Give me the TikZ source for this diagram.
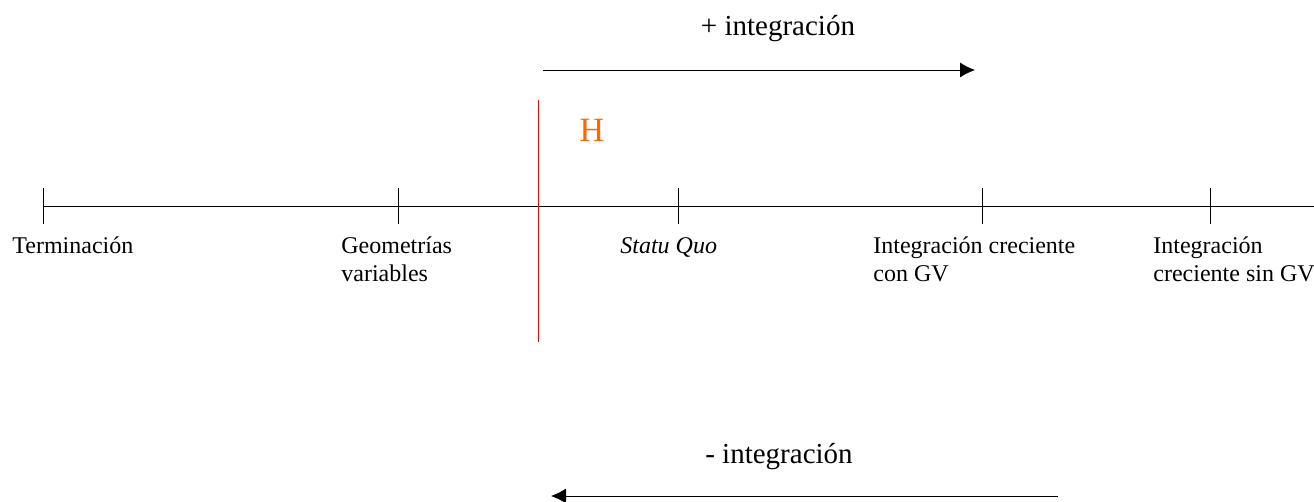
\documentclass[tikz,border=0pt]{standalone}
\usepackage{fontspec}
\setmainfont{Liberation Serif}
\usepackage{tikz}
\usetikzlibrary{arrows.meta,positioning}
\definecolor{naranja}{RGB}{255,102,0}
\tikzset{
    x=0.5pt, y=-0.5pt, line width=1.3pt,
    flecha/.style={-{Latex[length=7.5pt,width=7.5pt]}},
    lbl/.style={anchor=base west, inner sep=0pt, align=left, font=\fontsize{12}{14}\selectfont},
    titulo/.style={anchor=base, inner sep=0pt, font=\fontsize{14.5}{17}\selectfont}
}
\begin{document}
\begin{tikzpicture}
        \useasboundingbox (0,0) rectangle (1314,502);

        % eje
        \coordinate (a) at (43,206);
        \coordinate (b) at (398,206);
        \coordinate (c) at (678,206);
        \coordinate (d) at (982,206);
        \coordinate (e) at (1210,206);
        \coordinate (f) at (1314,206);
        \draw (a) -- (f);
        \foreach \p in {a,b,c,d,e}
            \draw ([yshift=9pt]\p) -- ([yshift=-9pt]\p);

        % etiquetas (base = ultima linea)
        \node[lbl] (la) at (12,254) {Terminación};
        \node[lbl] (lb) at (341,282) {Geometrías\\variables};
        \node[lbl] (lc) at (620,254) {\itshape Statu Quo};
        \node[lbl] (ld) at (873,282) {Integración creciente\\con GV};
        \node[lbl] (le) at (1153,282) {Integración\\creciente sin GV};

        % H
        \coordinate (h1) at (538,100);
        \coordinate (h2) at (538,342);
        \draw[red] (h1) -- (h2);
        \node[inner sep=0pt, anchor=base, text=naranja, font=\fontsize{17}{20}\selectfont] (h) at (592,142) {H};

        % flechas
        \coordinate (p1) at (543,70);
        \coordinate (p2) at (975,70);
        \draw[flecha] (p1) -- (p2);
        \node[titulo] (mas) at (778,36) {+ integración};

        \coordinate (q1) at (1058,496);
        \coordinate (q2) at (551,496);
        \draw[flecha] (q1) -- (q2);
        \node[titulo] (menos) at (779,464) {- integración};
\end{tikzpicture}
\end{document}
